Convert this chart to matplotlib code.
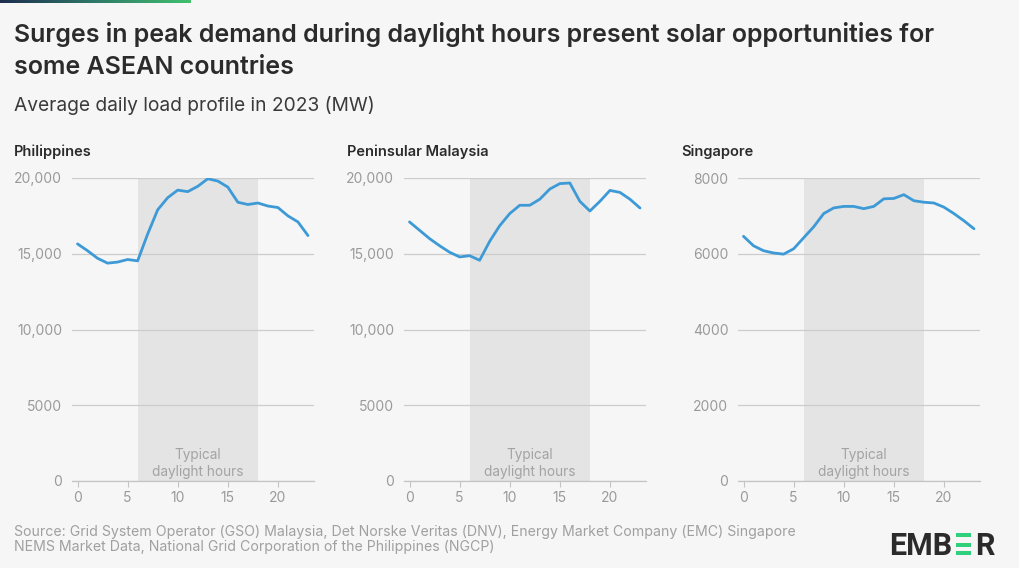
# Average daily load profile, three ASEAN grids
import matplotlib.pyplot as plt
import matplotlib.patches as mpatches
import numpy as np
from matplotlib.colors import LinearSegmentedColormap

# Data (MW, hourly averages for 2023)
hours = list(range(24))
philippines = [15650, 15200, 14700, 14380, 14450, 14620, 14530, 16300, 17900, 18700,
               19200, 19100, 19450, 19950, 19800, 19400, 18400, 18250, 18350, 18150,
               18050, 17500, 17100, 16200]
malaysia = [17100, 16550, 16000, 15530, 15100, 14790, 14870, 14570, 15820, 16850,
            17650, 18200, 18200, 18600, 19270, 19630, 19670, 18460, 17820, 18460,
            19180, 19050, 18600, 18020]
singapore = [6460, 6210, 6080, 6020, 5990, 6130, 6420, 6710, 7060, 7210,
             7250, 7250, 7190, 7250, 7450, 7460, 7560, 7400, 7360, 7340,
             7230, 7060, 6870, 6660]

series = [philippines, malaysia, singapore]
panel_titles = ['Philippines', 'Peninsular Malaysia', 'Singapore']
y_ticks = [[0, 5000, 10000, 15000, 20000],
           [0, 5000, 10000, 15000, 20000],
           [0, 2000, 4000, 6000, 8000]]
y_labels = [['0', '5000', '10,000', '15,000', '20,000'],
            ['0', '5000', '10,000', '15,000', '20,000'],
            ['0', '2000', '4000', '6000', '8000']]
x_ticks = [0, 5, 10, 15, 20]
daylight = (6, 18)

# Style
W, H = 1020, 568
bg = '#f6f6f6'
line_color = '#3d9ad6'
shade_color = '#e4e4e4'
grid_color = '#cccccc'
tick_color = '#9a9a9a'
dark = '#2b2b2b'
font = ['Inter', 'DejaVu Sans']

fig = plt.figure(figsize=(W / 100, H / 100), dpi=100, facecolor=bg)

# Gradient bar at top-left
bar_ax = fig.add_axes([0, 1 - 3 / H, 191 / W, 3 / H])
grad = np.linspace(0, 1, 256).reshape(1, -1)
cmap = LinearSegmentedColormap.from_list('ember', ['#1d2d4f', '#2f7a68', '#41c06f'])
bar_ax.imshow(grad, aspect='auto', cmap=cmap)
bar_ax.axis('off')

# Titles
fig.text(14 / W, 1 - 42 / H, 'Surges in peak demand during daylight hours present solar opportunities for',
         fontsize=18, weight='semibold', color=dark, family=font, va='baseline')
fig.text(14 / W, 1 - 74 / H, 'some ASEAN countries',
         fontsize=18, weight='semibold', color=dark, family=font, va='baseline')
fig.text(14 / W, 1 - 111 / H, 'Average daily load profile in 2023 (MW)',
         fontsize=13.8, color='#3a3a3a', family=font, va='baseline')

# Panels
lefts = [72, 404, 738]
title_lefts = [14, 347, 681]
for i in range(3):
    ax = fig.add_axes([lefts[i] / W, 1 - 481 / H, 242 / W, 303 / H])
    ax.set_facecolor(bg)
    ax.axvspan(daylight[0], daylight[1], color=shade_color, lw=0, zorder=0)
    ax.plot(hours, series[i], color=line_color, lw=2.0, solid_joinstyle='round',
            solid_capstyle='round', zorder=3)
    ax.set_xlim(-0.55, 23.6)
    ax.set_ylim(y_ticks[i][0], y_ticks[i][-1])
    ax.set_yticks(y_ticks[i])
    ax.set_yticklabels(y_labels[i])
    ax.set_xticks(x_ticks)
    ax.yaxis.grid(True, color=grid_color, lw=0.9)
    for s in ['top', 'right', 'left']:
        ax.spines[s].set_visible(False)
    ax.spines['bottom'].set_color('#c4c4c4')
    ax.spines['bottom'].set_linewidth(0.9)
    ax.tick_params(axis='y', length=0, pad=7, labelsize=10, labelcolor=tick_color)
    ax.tick_params(axis='x', length=4, color='#c4c4c4', pad=3, labelsize=10,
                   labelcolor=tick_color)
    for lab in ax.get_xticklabels() + ax.get_yticklabels():
        lab.set_family(font)
    ax.text(12, 0.058, 'Typical\ndaylight hours', transform=ax.get_xaxis_transform(),
            ha='center', va='center', fontsize=9.8, color='#a3a3a3', family=font,
            linespacing=1.2)
    fig.text(title_lefts[i] / W, 1 - 156 / H, panel_titles[i], fontsize=10.5,
             weight='semibold', color=dark, family=font, va='baseline')

# Source
fig.text(14 / W, 1 - 536 / H,
         'Source: Grid System Operator (GSO) Malaysia, Det Norske Veritas (DNV), '
         'Energy Market Company (EMC) Singapore',
         fontsize=10.2, color='#a0a0a0', family=font, va='baseline')
fig.text(14 / W, 1 - 551 / H,
         'NEMS Market Data, National Grid Corporation of the Philippines (NGCP)',
         fontsize=10.2, color='#a0a0a0', family=font, va='baseline')

# Logo
fig.text(952 / W, 1 - 555 / H, 'EMB', fontsize=22, weight='bold', color=dark,
         family=['Roboto', 'DejaVu Sans'], ha='right', va='baseline')
fig.text(975 / W, 1 - 555 / H, 'R', fontsize=22, weight='bold', color=dark,
         family=['Roboto', 'DejaVu Sans'], ha='left', va='baseline')
for top in [533, 543, 551]:
    fig.patches.append(mpatches.Rectangle((956 / W, 1 - (top + 4) / H), 15 / W, 4 / H,
                                          transform=fig.transFigure, color='#2fcf7c',
                                          lw=0))

fig.savefig('out.png', dpi=100, facecolor=bg)
